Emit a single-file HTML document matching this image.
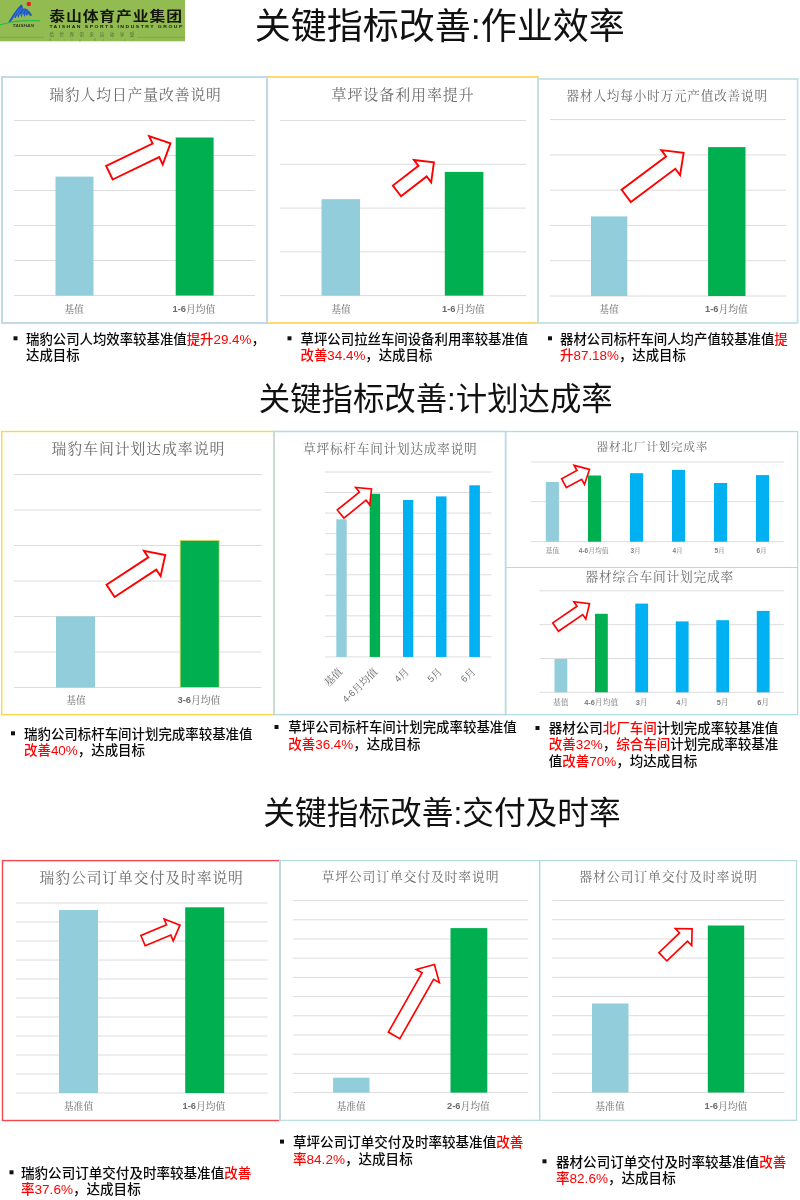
<!DOCTYPE html>
<html lang="zh-CN"><head><meta charset="utf-8"><title>关键指标改善</title>
<style>
html,body{margin:0;padding:0;background:#fff;}
body{width:800px;height:1200px;overflow:hidden;}
svg{display:block;will-change:transform;}
</style></head><body>
<svg width="800" height="1200" viewBox="0 0 800 1200">
<rect x="0" y="0" width="800" height="1200" fill="#fff"/>

<g id="logo">
<rect x="0" y="0" width="185" height="41.3" fill="#92BC52"/>
<path d="M8.1,22.6 L9.6,20 L13,14.5 L17,9 L20.5,5 L21.9,4.4 L22.6,6.5 L23.5,9 L25,8.2 L27.5,9.5 L29.5,11.5 L31.5,14 L32,15.5 L30.5,16.1 L29,15 L28,13.5 L27,16.2 L25.6,14 L24.5,17 L23,13 L21.5,17.6 L20,13.5 L18.5,18 L17,15.5 L15.5,18.6 L14.5,17 L12,20.2 L9.6,22.9 Z" fill="#1E58C6"/>
<path d="M0,24.3 C6,23 10,21.6 14,21 C22,19.9 31,20 40,20.3 L40,21.5 C31,21.2 22,21.3 14,22.2 C10,22.7 5,24.2 0,25.6 Z" fill="#2DB649"/>
<path d="M12.5,19 L19.5,8.5 M16.5,17 L22.3,7.5 M21,15.5 L24.6,9.5 M25,14 L27.3,10.5" stroke="#8fb6d8" stroke-width="0.45" fill="none" opacity="0.75"/>
<circle cx="28.8" cy="4.05" r="2.25" fill="#EE1C1C"/>
<text x="12.6" y="27.1" font-family='"Liberation Sans","Noto Sans CJK SC",sans-serif' font-size="3.7" font-weight="700" font-style="italic" fill="#2f3a2a" textLength="21.6" lengthAdjust="spacingAndGlyphs">TAISHAN</text>
<text transform="translate(49.2,21) scale(1.2,1)" font-family='"Liberation Sans","Noto Sans CJK SC",sans-serif' font-size="13.2" font-weight="700" fill="#15150c" letter-spacing="0.75">泰山体育产业集团</text>
<text transform="translate(49.4,27.8) scale(1.45,1)" font-family='"Liberation Sans","Noto Sans CJK SC",sans-serif' font-size="3.5" font-weight="700" fill="#1a1a10" textLength="91.7" lengthAdjust="spacing">TAISHAN SPORTS INDUSTRY GROUP</text>
<text x="49.4" y="36" font-family='"Liberation Sans","Noto Sans CJK SC",sans-serif' font-size="4.6" fill="#4f6a3a" textLength="85" lengthAdjust="spacing">给世界带来运动享受</text>
<text x="49.4" y="41" font-family='"Liberation Sans","Noto Sans CJK SC",sans-serif' font-size="2.6" fill="#6f9440" textLength="84" lengthAdjust="spacing">Bring Motion</text>
<line x1="0" y1="37.3" x2="44" y2="37.3" stroke="#6f8f45" stroke-width="0.5"/>
<line x1="137" y1="37.3" x2="185" y2="37.3" stroke="#6f8f45" stroke-width="0.5"/>
</g>
<text x="439.7" y="26.1" text-anchor="middle" dominant-baseline="central" font-family='"Liberation Sans","Noto Sans CJK SC",sans-serif' font-size="36" fill="#111">关键指标改善:作业效率</text>
<text x="435.75" y="399.2" text-anchor="middle" dominant-baseline="central" font-family='"Liberation Sans","Noto Sans CJK SC",sans-serif' font-size="31.4" fill="#111">关键指标改善:计划达成率</text>
<text x="442" y="813.3" text-anchor="middle" dominant-baseline="central" font-family='"Liberation Sans","Noto Sans CJK SC",sans-serif' font-size="31.7" fill="#111">关键指标改善:交付及时率</text>
<line x1="14" y1="120.50" x2="255" y2="120.50" stroke="#DCDCDC" stroke-width="1.0"/>
<line x1="14" y1="155.50" x2="255" y2="155.50" stroke="#DCDCDC" stroke-width="1.0"/>
<line x1="14" y1="190.50" x2="255" y2="190.50" stroke="#DCDCDC" stroke-width="1.0"/>
<line x1="14" y1="225.50" x2="255" y2="225.50" stroke="#DCDCDC" stroke-width="1.0"/>
<line x1="14" y1="260.50" x2="255" y2="260.50" stroke="#DCDCDC" stroke-width="1.0"/>
<line x1="14" y1="295.50" x2="255" y2="295.50" stroke="#DCDCDC" stroke-width="1.0"/>
<rect x="55.50" y="176.60" width="38.00" height="118.90" fill="#92CDDC" />
<rect x="175.70" y="137.50" width="37.90" height="158.00" fill="#00B050" />
<text x="135.47" y="95.2" text-anchor="middle" dominant-baseline="central" font-family='"Liberation Serif","Noto Serif CJK SC",serif' font-size="14.75" letter-spacing="0.94" font-weight="400" fill="#6a6a6a">瑞豹人均日产量改善说明</text>
<text x="74" y="308.5" text-anchor="middle" dominant-baseline="central" font-family='"Liberation Serif","Noto Serif CJK SC",serif' font-size="9.8" fill="#6b6b6b"><tspan>基值</tspan></text>
<text x="194" y="308.5" text-anchor="middle" dominant-baseline="central" font-family='"Liberation Serif","Noto Serif CJK SC",serif' font-size="9.8" fill="#6b6b6b"><tspan font-family='"Liberation Sans","Noto Sans CJK SC",sans-serif' font-weight="700" font-size="9.31">1-6</tspan><tspan>月均值</tspan></text>
<polygon points="112.67,179.50 159.18,157.13 162.73,164.52 170.50,143.30 149.07,136.13 152.63,143.52 106.13,165.90" fill="#fff" stroke="#FF0000" stroke-width="1.9" stroke-linejoin="miter"/>
<line x1="280" y1="120.60" x2="526" y2="120.60" stroke="#DCDCDC" stroke-width="1.0"/>
<line x1="280" y1="164.35" x2="526" y2="164.35" stroke="#DCDCDC" stroke-width="1.0"/>
<line x1="280" y1="208.10" x2="526" y2="208.10" stroke="#DCDCDC" stroke-width="1.0"/>
<line x1="280" y1="251.85" x2="526" y2="251.85" stroke="#DCDCDC" stroke-width="1.0"/>
<line x1="280" y1="295.60" x2="526" y2="295.60" stroke="#DCDCDC" stroke-width="1.0"/>
<rect x="321.50" y="199.20" width="38.50" height="96.40" fill="#92CDDC" />
<rect x="444.80" y="171.90" width="38.60" height="123.70" fill="#00B050" />
<text x="403.08" y="94.6" text-anchor="middle" dominant-baseline="central" font-family='"Liberation Serif","Noto Serif CJK SC",serif' font-size="14.95" letter-spacing="0.95" font-weight="400" fill="#6a6a6a">草坪设备利用率提升</text>
<text x="341" y="308.5" text-anchor="middle" dominant-baseline="central" font-family='"Liberation Serif","Noto Serif CJK SC",serif' font-size="9.8" fill="#6b6b6b"><tspan>基值</tspan></text>
<text x="463.5" y="308.5" text-anchor="middle" dominant-baseline="central" font-family='"Liberation Serif","Noto Serif CJK SC",serif' font-size="9.8" fill="#6b6b6b"><tspan font-family='"Liberation Sans","Noto Sans CJK SC",sans-serif' font-weight="700" font-size="9.31">1-6</tspan><tspan>月均值</tspan></text>
<polygon points="401.04,196.21 426.67,176.44 431.19,182.30 433.90,162.40 413.97,159.97 418.48,165.83 392.86,185.59" fill="#fff" stroke="#FF0000" stroke-width="1.9" stroke-linejoin="miter"/>
<line x1="550" y1="119.60" x2="786" y2="119.60" stroke="#DCDCDC" stroke-width="1.0"/>
<line x1="550" y1="154.90" x2="786" y2="154.90" stroke="#DCDCDC" stroke-width="1.0"/>
<line x1="550" y1="190.20" x2="786" y2="190.20" stroke="#DCDCDC" stroke-width="1.0"/>
<line x1="550" y1="225.40" x2="786" y2="225.40" stroke="#DCDCDC" stroke-width="1.0"/>
<line x1="550" y1="260.70" x2="786" y2="260.70" stroke="#DCDCDC" stroke-width="1.0"/>
<line x1="550" y1="296.00" x2="786" y2="296.00" stroke="#DCDCDC" stroke-width="1.0"/>
<rect x="591.00" y="216.40" width="36.30" height="79.60" fill="#92CDDC" />
<rect x="708.10" y="147.10" width="37.40" height="148.90" fill="#00B050" />
<text x="667.20" y="95.7" text-anchor="middle" dominant-baseline="central" font-family='"Liberation Serif","Noto Serif CJK SC",serif' font-size="12.62" letter-spacing="0.81" font-weight="400" fill="#6a6a6a">器材人均每小时万元产值改善说明</text>
<text x="609" y="308.5" text-anchor="middle" dominant-baseline="central" font-family='"Liberation Serif","Noto Serif CJK SC",serif' font-size="9.8" fill="#6b6b6b"><tspan>基值</tspan></text>
<text x="726.5" y="308.5" text-anchor="middle" dominant-baseline="central" font-family='"Liberation Serif","Noto Serif CJK SC",serif' font-size="9.8" fill="#6b6b6b"><tspan font-family='"Liberation Sans","Noto Sans CJK SC",sans-serif' font-weight="700" font-size="9.31">1-6</tspan><tspan>月均值</tspan></text>
<polygon points="630.87,202.11 675.31,168.78 680.08,175.14 683.65,152.90 661.30,150.10 666.07,156.46 621.63,189.79" fill="#fff" stroke="#FF0000" stroke-width="1.9" stroke-linejoin="miter"/>
<rect x="267" y="77" width="271" height="246" fill="none" stroke="#FFD966" stroke-width="1.9"/>
<rect x="2" y="77" width="265" height="246" fill="none" stroke="#BDD9E6" stroke-width="1.9"/>
<rect x="538" y="79" width="259.6" height="244" fill="none" stroke="#C3E1E8" stroke-width="1.8"/>
<rect x="13.5" y="336.3" width="4" height="4" fill="#111"/>
<text x="26" y="338.5" dominant-baseline="central" font-family='"Liberation Sans","Noto Sans CJK SC",sans-serif' font-size="13.4" font-weight="500" fill="#0a0a0a"><tspan>瑞豹公司人均效率较基准值</tspan><tspan fill="#FF0000">提升29.4%</tspan><tspan>，</tspan></text>
<text x="26" y="355" dominant-baseline="central" font-family='"Liberation Sans","Noto Sans CJK SC",sans-serif' font-size="13.4" font-weight="500" fill="#0a0a0a"><tspan>达成目标</tspan></text>
<rect x="287.5" y="336.3" width="4" height="4" fill="#111"/>
<text x="300.6" y="338.5" dominant-baseline="central" font-family='"Liberation Sans","Noto Sans CJK SC",sans-serif' font-size="13.4" font-weight="500" fill="#0a0a0a"><tspan>草坪公司拉丝车间设备利用率较基准值</tspan></text>
<text x="300.6" y="355" dominant-baseline="central" font-family='"Liberation Sans","Noto Sans CJK SC",sans-serif' font-size="13.4" font-weight="500" fill="#0a0a0a"><tspan fill="#FF0000">改善34.4%</tspan><tspan>，达成目标</tspan></text>
<rect x="548" y="336.3" width="4" height="4" fill="#111"/>
<text x="560.1" y="338.5" dominant-baseline="central" font-family='"Liberation Sans","Noto Sans CJK SC",sans-serif' font-size="13.4" font-weight="500" fill="#0a0a0a"><tspan>器材公司标杆车间人均产值较基准值</tspan><tspan fill="#FF0000">提</tspan></text>
<text x="560.1" y="355" dominant-baseline="central" font-family='"Liberation Sans","Noto Sans CJK SC",sans-serif' font-size="13.4" font-weight="500" fill="#0a0a0a"><tspan fill="#FF0000">升87.18%</tspan><tspan>，达成目标</tspan></text>
<line x1="14" y1="474.50" x2="261.5" y2="474.50" stroke="#DCDCDC" stroke-width="1.0"/>
<line x1="14" y1="510.00" x2="261.5" y2="510.00" stroke="#DCDCDC" stroke-width="1.0"/>
<line x1="14" y1="545.50" x2="261.5" y2="545.50" stroke="#DCDCDC" stroke-width="1.0"/>
<line x1="14" y1="581.00" x2="261.5" y2="581.00" stroke="#DCDCDC" stroke-width="1.0"/>
<line x1="14" y1="616.50" x2="261.5" y2="616.50" stroke="#DCDCDC" stroke-width="1.0"/>
<line x1="14" y1="652.00" x2="261.5" y2="652.00" stroke="#DCDCDC" stroke-width="1.0"/>
<line x1="14" y1="687.50" x2="261.5" y2="687.50" stroke="#DCDCDC" stroke-width="1.0"/>
<rect x="56.00" y="616.40" width="39.00" height="71.10" fill="#92CDDC" />
<rect x="180.10" y="540.30" width="39.10" height="147.20" fill="#00B050" stroke="#FFD966" stroke-width="0.8"/>
<text x="138.37" y="449.3" text-anchor="middle" dominant-baseline="central" font-family='"Liberation Serif","Noto Serif CJK SC",serif' font-size="14.85" letter-spacing="0.95" font-weight="400" fill="#6a6a6a">瑞豹车间计划达成率说明</text>
<text x="76" y="700" text-anchor="middle" dominant-baseline="central" font-family='"Liberation Serif","Noto Serif CJK SC",serif' font-size="9.8" fill="#6b6b6b"><tspan>基值</tspan></text>
<text x="199" y="700" text-anchor="middle" dominant-baseline="central" font-family='"Liberation Serif","Noto Serif CJK SC",serif' font-size="9.8" fill="#6b6b6b"><tspan font-family='"Liberation Sans","Noto Sans CJK SC",sans-serif' font-weight="700" font-size="9.31">3-6</tspan><tspan>月均值</tspan></text>
<polygon points="114.56,597.00 156.30,569.61 160.60,576.17 165.25,555.00 143.98,550.84 148.29,557.40 106.54,584.80" fill="#fff" stroke="#FF0000" stroke-width="1.9" stroke-linejoin="miter"/>
<line x1="325" y1="472.00" x2="491.4" y2="472.00" stroke="#DCDCDC" stroke-width="1.0"/>
<line x1="325" y1="492.55" x2="491.4" y2="492.55" stroke="#DCDCDC" stroke-width="1.0"/>
<line x1="325" y1="513.10" x2="491.4" y2="513.10" stroke="#DCDCDC" stroke-width="1.0"/>
<line x1="325" y1="533.65" x2="491.4" y2="533.65" stroke="#DCDCDC" stroke-width="1.0"/>
<line x1="325" y1="554.20" x2="491.4" y2="554.20" stroke="#DCDCDC" stroke-width="1.0"/>
<line x1="325" y1="574.75" x2="491.4" y2="574.75" stroke="#DCDCDC" stroke-width="1.0"/>
<line x1="325" y1="595.30" x2="491.4" y2="595.30" stroke="#DCDCDC" stroke-width="1.0"/>
<line x1="325" y1="615.85" x2="491.4" y2="615.85" stroke="#DCDCDC" stroke-width="1.0"/>
<line x1="325" y1="636.40" x2="491.4" y2="636.40" stroke="#DCDCDC" stroke-width="1.0"/>
<line x1="325" y1="656.95" x2="491.4" y2="656.95" stroke="#DCDCDC" stroke-width="1.0"/>
<rect x="336.30" y="519.30" width="10.40" height="137.65" fill="#92CDDC" />
<rect x="369.70" y="493.80" width="10.40" height="163.15" fill="#00B050" />
<rect x="403.00" y="500.00" width="10.30" height="156.95" fill="#00B0F0" />
<rect x="436.00" y="496.40" width="10.50" height="160.55" fill="#00B0F0" />
<rect x="469.30" y="485.30" width="10.60" height="171.65" fill="#00B0F0" />
<text x="390.30" y="449.2" text-anchor="middle" dominant-baseline="central" font-family='"Liberation Serif","Noto Serif CJK SC",serif' font-size="12.61" letter-spacing="0.81" font-weight="400" fill="#6a6a6a">草坪标杆车间计划达成率说明</text>
<text transform="translate(340.25,669.6) rotate(-45)" text-anchor="end" dominant-baseline="central" font-family='"Liberation Serif","Noto Serif CJK SC",serif' font-size="10.3" fill="#6b6b6b"><tspan>基值</tspan></text>
<text transform="translate(375.55,669.6) rotate(-45)" text-anchor="end" dominant-baseline="central" font-family='"Liberation Serif","Noto Serif CJK SC",serif' font-size="10.3" fill="#6b6b6b"><tspan font-family='"Liberation Sans","Noto Sans CJK SC",sans-serif' font-weight="400" font-size="9.27">4-6</tspan><tspan>月均值</tspan></text>
<text transform="translate(406.95,669.6) rotate(-45)" text-anchor="end" dominant-baseline="central" font-family='"Liberation Serif","Noto Serif CJK SC",serif' font-size="10.3" fill="#6b6b6b"><tspan font-family='"Liberation Sans","Noto Sans CJK SC",sans-serif' font-weight="400" font-size="9.27">4</tspan><tspan>月</tspan></text>
<text transform="translate(440.05,669.6) rotate(-45)" text-anchor="end" dominant-baseline="central" font-family='"Liberation Serif","Noto Serif CJK SC",serif' font-size="10.3" fill="#6b6b6b"><tspan font-family='"Liberation Sans","Noto Sans CJK SC",sans-serif' font-weight="400" font-size="9.27">5</tspan><tspan>月</tspan></text>
<text transform="translate(473.35,669.6) rotate(-45)" text-anchor="end" dominant-baseline="central" font-family='"Liberation Serif","Noto Serif CJK SC",serif' font-size="10.3" fill="#6b6b6b"><tspan font-family='"Liberation Sans","Noto Sans CJK SC",sans-serif' font-weight="400" font-size="9.27">6</tspan><tspan>月</tspan></text>
<polygon points="343.91,518.13 366.03,500.19 369.78,504.82 371.50,489.00 355.67,487.42 359.42,492.04 337.29,509.97" fill="#fff" stroke="#FF0000" stroke-width="1.65" stroke-linejoin="miter"/>
<line x1="530.8" y1="462.00" x2="784" y2="462.00" stroke="#DCDCDC" stroke-width="1.0"/>
<line x1="530.8" y1="501.70" x2="784" y2="501.70" stroke="#DCDCDC" stroke-width="1.0"/>
<line x1="530.8" y1="541.70" x2="784" y2="541.70" stroke="#DCDCDC" stroke-width="1.0"/>
<rect x="545.80" y="482.00" width="13.10" height="59.70" fill="#92CDDC" />
<rect x="588.00" y="475.50" width="13.10" height="66.20" fill="#00B050" />
<rect x="630.00" y="473.20" width="13.10" height="68.50" fill="#00B0F0" />
<rect x="672.00" y="469.90" width="13.10" height="71.80" fill="#00B0F0" />
<rect x="714.00" y="483.00" width="13.10" height="58.70" fill="#00B0F0" />
<rect x="756.00" y="475.10" width="13.10" height="66.60" fill="#00B0F0" />
<text x="652.37" y="447.4" text-anchor="middle" dominant-baseline="central" font-family='"Liberation Serif","Noto Serif CJK SC",serif' font-size="11.66" letter-spacing="0.74" font-weight="400" fill="#6a6a6a">器材北厂计划完成率</text>
<text x="552.5" y="549.9" text-anchor="middle" dominant-baseline="central" font-family='"Liberation Serif","Noto Serif CJK SC",serif' font-size="6.8" fill="#7d7d7d"><tspan>基值</tspan></text>
<text x="593.7" y="549.9" text-anchor="middle" dominant-baseline="central" font-family='"Liberation Serif","Noto Serif CJK SC",serif' font-size="6.8" fill="#7d7d7d"><tspan font-family='"Liberation Sans","Noto Sans CJK SC",sans-serif' font-weight="700" font-size="6.46">4-6</tspan><tspan>月均值</tspan></text>
<text x="635.7" y="549.9" text-anchor="middle" dominant-baseline="central" font-family='"Liberation Serif","Noto Serif CJK SC",serif' font-size="6.8" fill="#7d7d7d"><tspan font-family='"Liberation Sans","Noto Sans CJK SC",sans-serif' font-weight="700" font-size="6.46">3</tspan><tspan>月</tspan></text>
<text x="677.7" y="549.9" text-anchor="middle" dominant-baseline="central" font-family='"Liberation Serif","Noto Serif CJK SC",serif' font-size="6.8" fill="#7d7d7d"><tspan font-family='"Liberation Sans","Noto Sans CJK SC",sans-serif' font-weight="700" font-size="6.46">4</tspan><tspan>月</tspan></text>
<text x="719.7" y="549.9" text-anchor="middle" dominant-baseline="central" font-family='"Liberation Serif","Noto Serif CJK SC",serif' font-size="6.8" fill="#7d7d7d"><tspan font-family='"Liberation Sans","Noto Sans CJK SC",sans-serif' font-weight="700" font-size="6.46">5</tspan><tspan>月</tspan></text>
<text x="761.7" y="549.9" text-anchor="middle" dominant-baseline="central" font-family='"Liberation Serif","Noto Serif CJK SC",serif' font-size="6.8" fill="#7d7d7d"><tspan font-family='"Liberation Sans","Noto Sans CJK SC",sans-serif' font-weight="700" font-size="6.46">6</tspan><tspan>月</tspan></text>
<polygon points="566.38,487.60 581.68,479.32 584.49,484.51 589.50,469.40 574.11,465.33 576.92,470.52 561.62,478.80" fill="#fff" stroke="#FF0000" stroke-width="1.65" stroke-linejoin="miter"/>
<line x1="539.5" y1="590.80" x2="784" y2="590.80" stroke="#DCDCDC" stroke-width="1.0"/>
<line x1="539.5" y1="624.70" x2="784" y2="624.70" stroke="#DCDCDC" stroke-width="1.0"/>
<line x1="539.5" y1="658.50" x2="784" y2="658.50" stroke="#DCDCDC" stroke-width="1.0"/>
<line x1="539.5" y1="692.30" x2="784" y2="692.30" stroke="#DCDCDC" stroke-width="1.0"/>
<rect x="554.50" y="659.00" width="12.80" height="33.30" fill="#92CDDC" />
<rect x="595.00" y="613.80" width="12.80" height="78.50" fill="#00B050" />
<rect x="635.30" y="603.60" width="12.80" height="88.70" fill="#00B0F0" />
<rect x="675.80" y="621.40" width="12.80" height="70.90" fill="#00B0F0" />
<rect x="716.30" y="620.20" width="12.80" height="72.10" fill="#00B0F0" />
<rect x="756.80" y="610.90" width="12.80" height="81.40" fill="#00B0F0" />
<text x="659.80" y="577.3" text-anchor="middle" dominant-baseline="central" font-family='"Liberation Serif","Noto Serif CJK SC",serif' font-size="12.69" letter-spacing="0.81" font-weight="400" fill="#6a6a6a">器材综合车间计划完成率</text>
<text x="560.7" y="702" text-anchor="middle" dominant-baseline="central" font-family='"Liberation Serif","Noto Serif CJK SC",serif' font-size="7.8" fill="#7a7a7a"><tspan>基值</tspan></text>
<text x="601.2" y="702" text-anchor="middle" dominant-baseline="central" font-family='"Liberation Serif","Noto Serif CJK SC",serif' font-size="7.8" fill="#7a7a7a"><tspan font-family='"Liberation Sans","Noto Sans CJK SC",sans-serif' font-weight="700" font-size="7.41">4-6</tspan><tspan>月均值</tspan></text>
<text x="641.7" y="702" text-anchor="middle" dominant-baseline="central" font-family='"Liberation Serif","Noto Serif CJK SC",serif' font-size="7.8" fill="#7a7a7a"><tspan font-family='"Liberation Sans","Noto Sans CJK SC",sans-serif' font-weight="700" font-size="7.41">3</tspan><tspan>月</tspan></text>
<text x="682.2" y="702" text-anchor="middle" dominant-baseline="central" font-family='"Liberation Serif","Noto Serif CJK SC",serif' font-size="7.8" fill="#7a7a7a"><tspan font-family='"Liberation Sans","Noto Sans CJK SC",sans-serif' font-weight="700" font-size="7.41">4</tspan><tspan>月</tspan></text>
<text x="722.7" y="702" text-anchor="middle" dominant-baseline="central" font-family='"Liberation Serif","Noto Serif CJK SC",serif' font-size="7.8" fill="#7a7a7a"><tspan font-family='"Liberation Sans","Noto Sans CJK SC",sans-serif' font-weight="700" font-size="7.41">5</tspan><tspan>月</tspan></text>
<text x="763.2" y="702" text-anchor="middle" dominant-baseline="central" font-family='"Liberation Serif","Noto Serif CJK SC",serif' font-size="7.8" fill="#7a7a7a"><tspan font-family='"Liberation Sans","Noto Sans CJK SC",sans-serif' font-weight="700" font-size="7.41">6</tspan><tspan>月</tspan></text>
<polygon points="558.46,631.26 582.72,614.59 585.81,619.08 589.50,603.80 573.91,601.77 577.00,606.27 552.74,622.94" fill="#fff" stroke="#FF0000" stroke-width="1.65" stroke-linejoin="miter"/>
<rect x="1.75" y="431.5" width="272.25" height="283.1" fill="none" stroke="#FFD450" stroke-width="1.4"/>
<rect x="274" y="431.5" width="231.60000000000002" height="283.1" fill="none" stroke="#B9DCE4" stroke-width="1.6"/>
<rect x="505.6" y="431.5" width="292.0" height="283.1" fill="none" stroke="#B2DDE0" stroke-width="1.3"/>
<line x1="505.6" y1="567.5" x2="797.6" y2="567.5" stroke="#B2DDE0" stroke-width="1.2"/>
<rect x="11" y="731.3" width="4" height="4" fill="#111"/>
<text x="24" y="733.5" dominant-baseline="central" font-family='"Liberation Sans","Noto Sans CJK SC",sans-serif' font-size="13.45" font-weight="500" fill="#0a0a0a"><tspan>瑞豹公司标杆车间计划完成率较基准值</tspan></text>
<text x="24" y="750" dominant-baseline="central" font-family='"Liberation Sans","Noto Sans CJK SC",sans-serif' font-size="13.45" font-weight="500" fill="#0a0a0a"><tspan fill="#FF0000">改善40%</tspan><tspan>，达成目标</tspan></text>
<rect x="274.5" y="725.0" width="4" height="4" fill="#111"/>
<text x="288.3" y="727.2" dominant-baseline="central" font-family='"Liberation Sans","Noto Sans CJK SC",sans-serif' font-size="13.45" font-weight="500" fill="#0a0a0a"><tspan>草坪公司标杆车间计划完成率较基准值</tspan></text>
<text x="288.3" y="744" dominant-baseline="central" font-family='"Liberation Sans","Noto Sans CJK SC",sans-serif' font-size="13.45" font-weight="500" fill="#0a0a0a"><tspan fill="#FF0000">改善36.4%</tspan><tspan>，达成目标</tspan></text>
<rect x="535.5" y="726.0" width="4" height="4" fill="#111"/>
<text x="548.7" y="728.2" dominant-baseline="central" font-family='"Liberation Sans","Noto Sans CJK SC",sans-serif' font-size="13.5" font-weight="500" fill="#0a0a0a"><tspan>器材公司</tspan><tspan fill="#FF0000">北厂车间</tspan><tspan>计划完成率较基准值</tspan></text>
<text x="548.7" y="744.4" dominant-baseline="central" font-family='"Liberation Sans","Noto Sans CJK SC",sans-serif' font-size="13.5" font-weight="500" fill="#0a0a0a"><tspan fill="#FF0000">改善32%</tspan><tspan>，</tspan><tspan fill="#FF0000">综合车间</tspan><tspan>计划完成率较基准</tspan></text>
<text x="548.7" y="760.6" dominant-baseline="central" font-family='"Liberation Sans","Noto Sans CJK SC",sans-serif' font-size="13.5" font-weight="500" fill="#0a0a0a"><tspan>值</tspan><tspan fill="#FF0000">改善70%</tspan><tspan>，均达成目标</tspan></text>
<line x1="16" y1="903.00" x2="267.5" y2="903.00" stroke="#DCDCDC" stroke-width="1.0"/>
<line x1="16" y1="922.00" x2="267.5" y2="922.00" stroke="#DCDCDC" stroke-width="1.0"/>
<line x1="16" y1="941.00" x2="267.5" y2="941.00" stroke="#DCDCDC" stroke-width="1.0"/>
<line x1="16" y1="960.00" x2="267.5" y2="960.00" stroke="#DCDCDC" stroke-width="1.0"/>
<line x1="16" y1="979.00" x2="267.5" y2="979.00" stroke="#DCDCDC" stroke-width="1.0"/>
<line x1="16" y1="998.00" x2="267.5" y2="998.00" stroke="#DCDCDC" stroke-width="1.0"/>
<line x1="16" y1="1017.00" x2="267.5" y2="1017.00" stroke="#DCDCDC" stroke-width="1.0"/>
<line x1="16" y1="1036.00" x2="267.5" y2="1036.00" stroke="#DCDCDC" stroke-width="1.0"/>
<line x1="16" y1="1055.00" x2="267.5" y2="1055.00" stroke="#DCDCDC" stroke-width="1.0"/>
<line x1="16" y1="1074.00" x2="267.5" y2="1074.00" stroke="#DCDCDC" stroke-width="1.0"/>
<line x1="16" y1="1093.00" x2="267.5" y2="1093.00" stroke="#DCDCDC" stroke-width="1.0"/>
<rect x="59.00" y="910.00" width="39.00" height="183.00" fill="#92CDDC" />
<rect x="185.20" y="907.30" width="39.00" height="185.70" fill="#00B050" />
<text x="141.67" y="877.5" text-anchor="middle" dominant-baseline="central" font-family='"Liberation Serif","Noto Serif CJK SC",serif' font-size="14.79" letter-spacing="0.94" font-weight="400" fill="#6a6a6a">瑞豹公司订单交付及时率说明</text>
<text x="78.5" y="1105.5" text-anchor="middle" dominant-baseline="central" font-family='"Liberation Serif","Noto Serif CJK SC",serif' font-size="9.8" fill="#6b6b6b"><tspan>基准值</tspan></text>
<text x="204" y="1105.5" text-anchor="middle" dominant-baseline="central" font-family='"Liberation Serif","Noto Serif CJK SC",serif' font-size="9.8" fill="#6b6b6b"><tspan font-family='"Liberation Sans","Noto Sans CJK SC",sans-serif' font-weight="700" font-size="9.31">1-6</tspan><tspan>月均值</tspan></text>
<polygon points="145.19,945.72 170.79,935.02 173.22,940.83 180.00,925.15 164.08,918.96 166.51,924.77 140.91,935.48" fill="#fff" stroke="#FF0000" stroke-width="1.65" stroke-linejoin="miter"/>
<line x1="293" y1="900.60" x2="528" y2="900.60" stroke="#DCDCDC" stroke-width="1.0"/>
<line x1="293" y1="919.80" x2="528" y2="919.80" stroke="#DCDCDC" stroke-width="1.0"/>
<line x1="293" y1="939.00" x2="528" y2="939.00" stroke="#DCDCDC" stroke-width="1.0"/>
<line x1="293" y1="958.20" x2="528" y2="958.20" stroke="#DCDCDC" stroke-width="1.0"/>
<line x1="293" y1="977.40" x2="528" y2="977.40" stroke="#DCDCDC" stroke-width="1.0"/>
<line x1="293" y1="996.60" x2="528" y2="996.60" stroke="#DCDCDC" stroke-width="1.0"/>
<line x1="293" y1="1015.80" x2="528" y2="1015.80" stroke="#DCDCDC" stroke-width="1.0"/>
<line x1="293" y1="1035.00" x2="528" y2="1035.00" stroke="#DCDCDC" stroke-width="1.0"/>
<line x1="293" y1="1054.20" x2="528" y2="1054.20" stroke="#DCDCDC" stroke-width="1.0"/>
<line x1="293" y1="1073.40" x2="528" y2="1073.40" stroke="#DCDCDC" stroke-width="1.0"/>
<line x1="293" y1="1092.60" x2="528" y2="1092.60" stroke="#DCDCDC" stroke-width="1.0"/>
<rect x="333.10" y="1077.70" width="36.40" height="14.90" fill="#92CDDC" />
<rect x="450.50" y="928.10" width="36.80" height="164.50" fill="#00B050" />
<text x="410.41" y="876.6" text-anchor="middle" dominant-baseline="central" font-family='"Liberation Serif","Noto Serif CJK SC",serif' font-size="12.86" letter-spacing="0.82" font-weight="400" fill="#6a6a6a">草坪公司订单交付及时率说明</text>
<text x="351.1" y="1105.5" text-anchor="middle" dominant-baseline="central" font-family='"Liberation Serif","Noto Serif CJK SC",serif' font-size="9.8" fill="#6b6b6b"><tspan>基准值</tspan></text>
<text x="468.5" y="1105.5" text-anchor="middle" dominant-baseline="central" font-family='"Liberation Serif","Noto Serif CJK SC",serif' font-size="9.8" fill="#6b6b6b"><tspan font-family='"Liberation Sans","Noto Sans CJK SC",sans-serif' font-weight="700" font-size="9.31">2-6</tspan><tspan>月均值</tspan></text>
<polygon points="399.84,1038.61 433.56,979.32 439.34,982.61 434.40,964.50 416.31,969.51 422.09,972.80 388.36,1032.09" fill="#fff" stroke="#FF0000" stroke-width="1.65" stroke-linejoin="miter"/>
<line x1="552.3" y1="900.50" x2="784.6" y2="900.50" stroke="#DCDCDC" stroke-width="1.0"/>
<line x1="552.3" y1="919.70" x2="784.6" y2="919.70" stroke="#DCDCDC" stroke-width="1.0"/>
<line x1="552.3" y1="938.90" x2="784.6" y2="938.90" stroke="#DCDCDC" stroke-width="1.0"/>
<line x1="552.3" y1="958.10" x2="784.6" y2="958.10" stroke="#DCDCDC" stroke-width="1.0"/>
<line x1="552.3" y1="977.30" x2="784.6" y2="977.30" stroke="#DCDCDC" stroke-width="1.0"/>
<line x1="552.3" y1="996.50" x2="784.6" y2="996.50" stroke="#DCDCDC" stroke-width="1.0"/>
<line x1="552.3" y1="1015.70" x2="784.6" y2="1015.70" stroke="#DCDCDC" stroke-width="1.0"/>
<line x1="552.3" y1="1034.90" x2="784.6" y2="1034.90" stroke="#DCDCDC" stroke-width="1.0"/>
<line x1="552.3" y1="1054.10" x2="784.6" y2="1054.10" stroke="#DCDCDC" stroke-width="1.0"/>
<line x1="552.3" y1="1073.30" x2="784.6" y2="1073.30" stroke="#DCDCDC" stroke-width="1.0"/>
<line x1="552.3" y1="1092.50" x2="784.6" y2="1092.50" stroke="#DCDCDC" stroke-width="1.0"/>
<rect x="592.00" y="1003.50" width="36.50" height="89.00" fill="#92CDDC" />
<rect x="707.80" y="925.50" width="36.40" height="167.00" fill="#00B050" />
<text x="668.51" y="876.4" text-anchor="middle" dominant-baseline="central" font-family='"Liberation Serif","Noto Serif CJK SC",serif' font-size="12.92" letter-spacing="0.82" font-weight="400" fill="#6a6a6a">器材公司订单交付及时率说明</text>
<text x="610" y="1105.5" text-anchor="middle" dominant-baseline="central" font-family='"Liberation Serif","Noto Serif CJK SC",serif' font-size="9.8" fill="#6b6b6b"><tspan>基准值</tspan></text>
<text x="726" y="1105.5" text-anchor="middle" dominant-baseline="central" font-family='"Liberation Serif","Noto Serif CJK SC",serif' font-size="9.8" fill="#6b6b6b"><tspan font-family='"Liberation Sans","Noto Sans CJK SC",sans-serif' font-weight="700" font-size="9.31">1-6</tspan><tspan>月均值</tspan></text>
<polygon points="666.88,960.95 687.52,941.20 691.70,945.57 692.10,928.85 675.38,928.52 679.56,932.89 658.92,952.65" fill="#fff" stroke="#FF0000" stroke-width="1.65" stroke-linejoin="miter"/>
<rect x="2.5" y="860.6" width="277.5" height="259.9" fill="none" stroke="#F0484E" stroke-width="1.4"/>
<rect x="280" y="860.6" width="259.6" height="259.69999999999993" fill="none" stroke="#B4DDDC" stroke-width="1.2"/>
<rect x="539.6" y="860.6" width="256.9" height="259.69999999999993" fill="none" stroke="#B4DDDC" stroke-width="1.3"/>
<line x1="280" y1="860" x2="280" y2="1120.9" stroke="#BFD9E2" stroke-width="1.8"/>
<rect x="9.5" y="1170.3" width="4" height="4" fill="#111"/>
<text x="21" y="1172.5" dominant-baseline="central" font-family='"Liberation Sans","Noto Sans CJK SC",sans-serif' font-size="13.56" font-weight="500" fill="#0a0a0a"><tspan>瑞豹公司订单交付及时率较基准值</tspan><tspan fill="#FF0000">改善</tspan></text>
<text x="21" y="1188.7" dominant-baseline="central" font-family='"Liberation Sans","Noto Sans CJK SC",sans-serif' font-size="13.56" font-weight="500" fill="#0a0a0a"><tspan fill="#FF0000">率37.6%</tspan><tspan>，达成目标</tspan></text>
<rect x="280" y="1139.6" width="4" height="4" fill="#111"/>
<text x="293" y="1141.8" dominant-baseline="central" font-family='"Liberation Sans","Noto Sans CJK SC",sans-serif' font-size="13.56" font-weight="500" fill="#0a0a0a"><tspan>草坪公司订单交付及时率较基准值</tspan><tspan fill="#FF0000">改善</tspan></text>
<text x="293" y="1158.5" dominant-baseline="central" font-family='"Liberation Sans","Noto Sans CJK SC",sans-serif' font-size="13.56" font-weight="500" fill="#0a0a0a"><tspan fill="#FF0000">率84.2%</tspan><tspan>，达成目标</tspan></text>
<rect x="542.5" y="1159.3" width="4" height="4" fill="#111"/>
<text x="556" y="1161.5" dominant-baseline="central" font-family='"Liberation Sans","Noto Sans CJK SC",sans-serif' font-size="13.56" font-weight="500" fill="#0a0a0a"><tspan>器材公司订单交付及时率较基准值</tspan><tspan fill="#FF0000">改善</tspan></text>
<text x="556" y="1178" dominant-baseline="central" font-family='"Liberation Sans","Noto Sans CJK SC",sans-serif' font-size="13.56" font-weight="500" fill="#0a0a0a"><tspan fill="#FF0000">率82.6%</tspan><tspan>，达成目标</tspan></text>
</svg></body></html>
